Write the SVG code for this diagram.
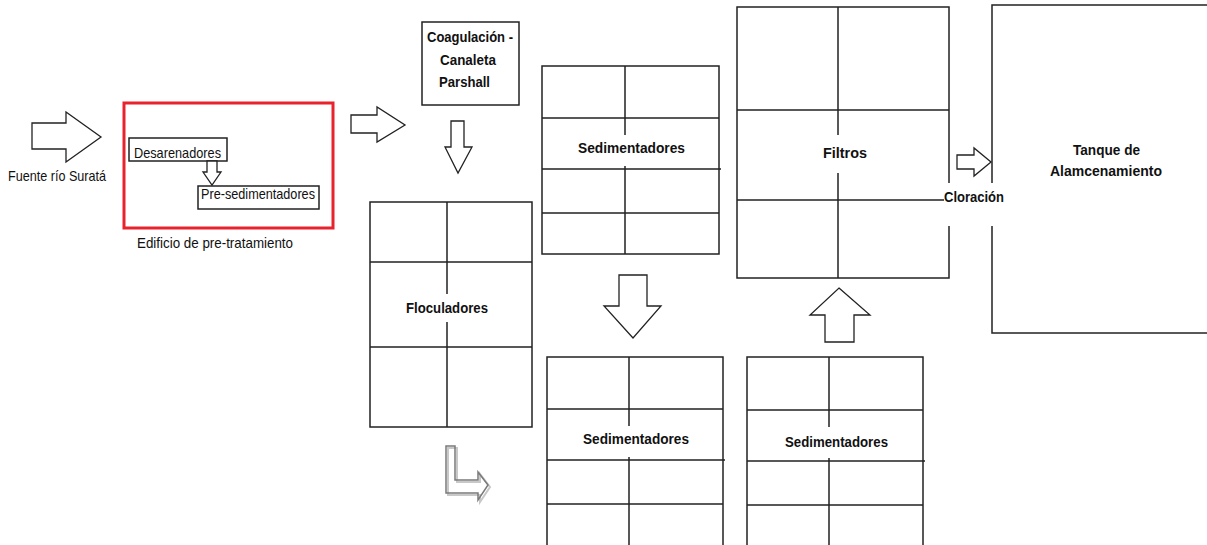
<svg xmlns="http://www.w3.org/2000/svg" width="1207" height="545" viewBox="0 0 1207 545">
<style>
.bx{fill:#fff;stroke:#222;stroke-width:1.5}
.ln{stroke:#222;stroke-width:1.5;fill:none}
.ar{fill:#fff;stroke:#222;stroke-width:1.3;stroke-linejoin:miter}
.t{font-family:"Liberation Sans",Arial,sans-serif;font-size:14.5px;fill:#111}
.b{font-family:"Liberation Sans",Arial,sans-serif;font-size:15.5px;font-weight:bold;fill:#111}
</style>
<rect width="1207" height="545" fill="#fff"/>

<g id="fuente">
<text class="t" x="8" y="181" textLength="98" lengthAdjust="spacingAndGlyphs">Fuente río Suratá</text>
</g>

<g id="edificio-pretratamiento">
<rect x="124" y="103" width="209" height="125" fill="none" stroke="#e8232e" stroke-width="3"/>
<text class="t" x="137" y="248" textLength="156" lengthAdjust="spacingAndGlyphs">Edificio de pre-tratamiento</text>
</g>

<g id="desarenadores">
<rect class="bx" x="129" y="138" width="98" height="23"/>
<text class="t" x="134" y="158" textLength="87" lengthAdjust="spacingAndGlyphs">Desarenadores</text>
</g>

<g id="presedimentadores">
<rect class="bx" x="198" y="186" width="121" height="23"/>
<text class="t" x="201" y="199" textLength="114" lengthAdjust="spacingAndGlyphs">Pre-sedimentadores</text>
</g>

<g id="coagulacion">
<rect class="bx" x="422" y="22" width="97" height="83"/>
<text class="b" x="427" y="42" textLength="86" lengthAdjust="spacingAndGlyphs">Coagulación -</text>
<text class="b" x="440" y="65" textLength="56" lengthAdjust="spacingAndGlyphs">Canaleta</text>
<text class="b" x="439" y="87" textLength="51" lengthAdjust="spacingAndGlyphs">Parshall</text>
</g>

<g id="floculadores">
<rect class="bx" x="370" y="202" width="162" height="225"/>
<path class="ln" d="M447 202V294M447 322V427M370 262H532M370 347H532"/>
<text class="b" x="406" y="313" textLength="82" lengthAdjust="spacingAndGlyphs">Floculadores</text>
</g>

<g id="sedimentadores-1">
<rect class="bx" x="542" y="66" width="177" height="188"/>
<path class="ln" d="M625 66V135M625 166V254M542 118H719M542 169H721M542 213H719"/>
<text class="b" x="578" y="153" textLength="107" lengthAdjust="spacingAndGlyphs">Sedimentadores</text>
</g>

<g id="sedimentadores-2">
<rect class="bx" x="547" y="357" width="176" height="192"/>
<path class="ln" d="M629 357V426M629 457V549M547 409H723M547 460H725M547 504H723"/>
<text class="b" x="583" y="444" textLength="106" lengthAdjust="spacingAndGlyphs">Sedimentadores</text>
</g>

<g id="sedimentadores-3">
<rect class="bx" x="747" y="357" width="176" height="192"/>
<path class="ln" d="M829 357V427M829 458V549M747 410H923M747 461H925M747 505H923"/>
<text class="b" x="785" y="447" textLength="103" lengthAdjust="spacingAndGlyphs">Sedimentadores</text>
</g>

<g id="tanque">
<rect class="bx" x="992" y="5" width="230" height="328"/>
<text class="b" x="1073" y="155" textLength="67" lengthAdjust="spacingAndGlyphs">Tanque de</text>
<text class="b" x="1050" y="176" textLength="112" lengthAdjust="spacingAndGlyphs">Alamcenamiento</text>
</g>

<g id="filtros">
<rect class="bx" x="737" y="7" width="212" height="271"/>
<path class="ln" d="M838 7V135M838 173V278M737 110H949M737 200H949"/>
<text class="b" x="823" y="158" textLength="44" lengthAdjust="spacingAndGlyphs">Filtros</text>
</g>

<g id="cloracion">
<rect x="944" y="183" width="46" height="43" fill="#fff"/>
<rect x="990" y="183" width="4" height="43" fill="#fff"/>
<text class="b" x="944" y="202" textLength="60" lengthAdjust="spacingAndGlyphs">Cloración</text>
</g>

<g id="connectors">
<polygon class="ar" points="32,123 66,123 66,112 101,137 66,162 66,149 32,149"/>
<polygon class="ar" points="207,161 217,161 217,172 221,172 212,185 203,172 207,172"/>
<polygon class="ar" points="351,115 377,115 377,107 405,125 377,142 377,133 351,133"/>
<polygon class="ar" points="451,121 464,121 464,147 472,147 458,173 445,147 451,147"/>
<polygon class="ar" points="619,275 647,275 647,306 661,306 633,338 604,306 619,306"/>
<polygon class="ar" points="839,288 870,315 854,315 854,342 825,342 825,315 810,315"/>
<polygon class="ar" points="957,155 974,155 974,148 991,162 974,176 974,169 957,169"/>
<polygon points="448,448 457,448 457,482 480,482 480,474 490,487 480,502 480,495 448,495" fill="none" stroke="#c8c8c8" stroke-width="2"/>
<polygon points="446,446 455,446 455,480 478,480 478,472 488,485 478,500 478,493 446,493" fill="none" stroke="#7a7a7a" stroke-width="1.5"/>
</g>
</svg>
